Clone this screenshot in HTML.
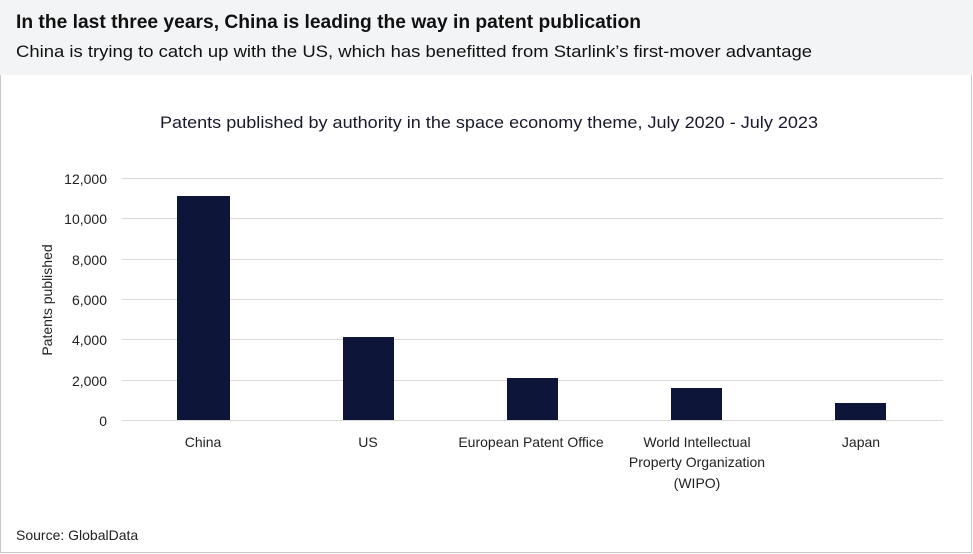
<!DOCTYPE html>
<html><head><style>
html,body{margin:0;padding:0;background:#fff;}
svg{display:block;font-family:"Liberation Sans",sans-serif;}
</style></head><body>
<svg width="973" height="554" viewBox="0 0 973 554">
<rect x="0" y="0" width="973" height="554" fill="#fff"/>
<rect x="0.5" y="0.5" width="971" height="552" fill="none" stroke="#c8c8c8"/>
<rect x="0" y="0" width="973" height="75" fill="#f3f4f6"/>
<text x="16" y="28" font-size="19" font-weight="bold" fill="#111" textLength="625" lengthAdjust="spacingAndGlyphs">In the last three years, China is leading the way in patent publication</text>
<text x="16" y="57" font-size="17" fill="#111" textLength="796" lengthAdjust="spacingAndGlyphs">China is trying to catch up with the US, which has benefitted from Starlink’s first-mover advantage</text>
<text x="160" y="128" font-size="17" fill="#1a1a2e" textLength="658" lengthAdjust="spacingAndGlyphs">Patents published by authority in the space economy theme, July 2020 - July 2023</text>
<g stroke="#d9d9d9" stroke-width="1">
<line x1="122" x2="943" y1="178.5" y2="178.5"/>
<line x1="122" x2="943" y1="218.5" y2="218.5"/>
<line x1="122" x2="943" y1="259.5" y2="259.5"/>
<line x1="122" x2="943" y1="299.5" y2="299.5"/>
<line x1="122" x2="943" y1="339.5" y2="339.5"/>
<line x1="122" x2="943" y1="380.5" y2="380.5"/>
<line x1="122" x2="943" y1="420.5" y2="420.5"/>
</g>
<g font-size="14" fill="#222" text-anchor="end">
<text x="107" y="184">12,000</text>
<text x="107" y="224">10,000</text>
<text x="107" y="265">8,000</text>
<text x="107" y="305">6,000</text>
<text x="107" y="345">4,000</text>
<text x="107" y="386">2,000</text>
<text x="107" y="426">0</text>
</g>
<text transform="translate(52,300) rotate(-90)" font-size="14" fill="#222" text-anchor="middle">Patents published</text>
<g fill="#0d1538">
<rect x="177" y="196" width="53" height="224"/>
<rect x="343" y="337" width="51" height="83"/>
<rect x="507" y="378" width="51" height="42"/>
<rect x="671" y="388" width="51" height="32"/>
<rect x="835" y="403" width="51" height="17"/>
</g>
<g font-size="14" fill="#222" text-anchor="middle">
<text x="203" y="447">China</text>
<text x="368" y="447">US</text>
<text x="531" y="447">European Patent Office</text>
<text x="697" y="447">World Intellectual</text>
<text x="697" y="467">Property Organization</text>
<text x="697" y="488">(WIPO)</text>
<text x="861" y="447">Japan</text>
</g>
<text x="16" y="540" font-size="14" fill="#222">Source: GlobalData</text>
</svg>
</body></html>
